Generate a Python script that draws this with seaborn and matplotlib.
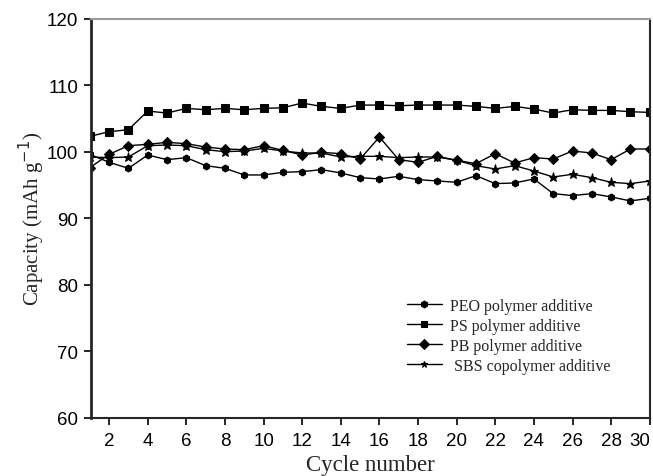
import numpy as np
import pandas as pd
import matplotlib
matplotlib.use("Agg")
import matplotlib.pyplot as plt
import seaborn as sns

cycles = list(range(1, 31))

peo = [99.6, 98.4, 97.5, 99.5, 98.8, 99.1, 97.9, 97.5, 96.5, 96.5,
       96.9, 97.0, 97.3, 96.8, 96.1, 95.9, 96.3, 95.8, 95.6, 95.4,
       96.4, 95.2, 95.3, 95.9, 93.7, 93.4, 93.7, 93.2, 92.6, 93.0]
ps = [102.3, 103.0, 103.3, 106.1, 105.8, 106.5, 106.3, 106.5, 106.3, 106.5,
      106.6, 107.3, 106.8, 106.5, 107.0, 107.0, 106.9, 107.0, 107.0, 107.0,
      106.8, 106.5, 106.8, 106.4, 105.8, 106.3, 106.2, 106.2, 106.0, 105.9]
pb = [97.6, 99.6, 100.9, 101.1, 101.4, 101.2, 100.7, 100.4, 100.3, 100.9,
      100.2, 99.5, 99.9, 99.7, 98.9, 102.2, 98.8, 98.4, 99.3, 98.7,
      98.2, 99.7, 98.3, 99.1, 98.9, 100.1, 99.8, 98.8, 100.4, 100.4]
sbs = [99.2, 99.1, 99.2, 100.9, 101.0, 100.9, 100.3, 100.0, 100.1, 100.5,
       100.1, 99.8, 99.8, 99.2, 99.3, 99.3, 99.1, 99.2, 99.2, 98.7,
       97.9, 97.4, 97.9, 97.1, 96.2, 96.6, 96.1, 95.4, 95.2, 95.6]

labels = ["PEO polymer additive", "PS polymer additive",
          "PB polymer additive", " SBS copolymer additive"]
series = [peo, ps, pb, sbs]

frames = []
for lab, vals in zip(labels, series):
    frames.append(pd.DataFrame({"cycle": cycles, "capacity": vals, "sample": lab}))
df = pd.concat(frames, ignore_index=True)

sns.set_style("ticks")
plt.rcParams["font.family"] = ["Liberation Sans", "DejaVu Sans"]

fig = plt.figure(figsize=(6.53, 4.77), dpi=100)
ax = fig.add_axes([0.139, 0.1216, 0.856, 0.8375])

marker_map = {labels[0]: "h", labels[1]: "s", labels[2]: "D", labels[3]: "*"}
size_map = {labels[0]: 5.0, labels[1]: 5.2, labels[2]: 4.6, labels[3]: 6.5}

sns.lineplot(data=df, x="cycle", y="capacity", hue="sample", style="sample",
             palette=["black"] * 4, markers=marker_map, dashes=False,
             linewidth=1.0, markersize=5, markeredgecolor="black",
             ax=ax, legend=True)

for line, lab in zip(ax.get_lines(), labels):
    line.set_markersize(size_map[lab])

ax.set_xlim(1.05, 30)
ax.set_ylim(60, 120)
ax.set_xticks(range(2, 31, 2))
ax.set_yticks(range(60, 121, 10))
ax.tick_params(axis="both", direction="out", length=5, width=1.2,
               labelsize=13.5, colors="black")
ax.tick_params(axis="x", pad=5)
ax.tick_params(axis="y", pad=4)
ax.get_xticklabels()[-1].set_horizontalalignment("right")

for s in ax.spines.values():
    s.set_visible(True)
ax.spines["left"].set_linewidth(2.0)
ax.spines["bottom"].set_linewidth(1.5)
ax.spines["right"].set_linewidth(1.5)
ax.spines["top"].set_linewidth(1.5)
ax.spines["top"].set_color("#9a9a9a")

ax.set_xlabel("Cycle number", fontsize=16.5, family="Liberation Serif", labelpad=4)
ax.set_ylabel("Capacity (mAh g$^{-1}$)", fontsize=15, family="Liberation Serif",
              labelpad=0)

handles, _ = ax.get_legend_handles_labels()
ax.get_legend().remove()
leg = fig.legend(handles[-4:], labels, loc="center left",
                 bbox_to_anchor=(0.601, 0.294), frameon=False,
                 prop={"family": "Liberation Serif", "size": 11.5},
                 handlelength=2.2, handletextpad=0.5, labelspacing=0.25)

fig.savefig("out.png", dpi=100)
